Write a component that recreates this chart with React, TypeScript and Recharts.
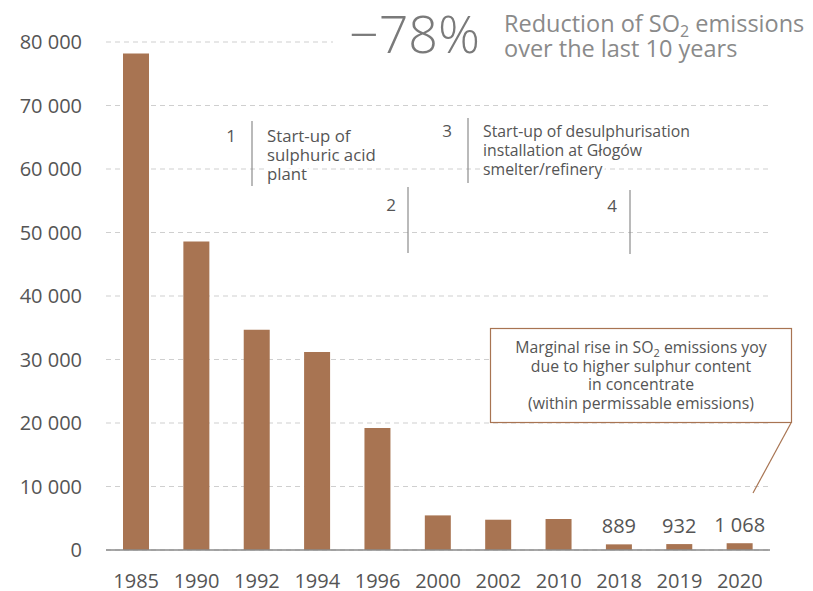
import React from "react";
import { BarChart, Bar, XAxis, YAxis, CartesianGrid, LabelList } from "recharts";

const years = ["1985", "1990", "1992", "1994", "1996", "2000", "2002", "2010", "2018", "2019", "2020"];
const emissions = [78200, 48600, 34700, 31200, 19200, 5450, 4770, 4880, 889, 932, 1068];
const valueLabels = ["", "", "", "", "", "", "", "", "889", "932", "1\u00a0068"];
const yTicks = [0, 10000, 20000, 30000, 40000, 50000, 60000, 70000, 80000];

const headline = "\u221278%";
const headlineText = ["Reduction of SO", "2", " emissions", "over the last 10 years"];
const milestone1 = ["Start-up of", "sulphuric acid", "plant"];
const milestone3 = ["Start-up of desulphurisation", "installation at G\u0142og\u00f3w", "smelter/refinery"];
const calloutLines = ["due to higher sulphur content", "in concentrate", "(within permissable emissions)"];

const data = years.map((y, i) => ({ year: y, value: emissions[i], label: valueLabels[i] }));

const BAR = "#A87452";
const FONT = "'Open Sans', sans-serif";
const fmt = (v: number) => String(v).replace(/\B(?=(\d{3})+(?!\d))/g, " ");

const halo = { stroke: "#fff", strokeWidth: 6, paintOrder: "stroke" as const, strokeLinejoin: "round" as const };

export default function App() {
  return (
    <div style={{ position: "relative", width: 813, height: 591, background: "#fff", fontFamily: FONT }}>
      <style>{"body{margin:0;background:#fff}"}</style>
      <BarChart
        width={813}
        height={591}
        data={data}
        margin={{ top: 42, right: 43, bottom: 11, left: 0 }}
      >
        <CartesianGrid vertical={false} stroke="#cfcfcf" strokeDasharray="5 4" />
        <XAxis
          dataKey="year"
          axisLine={{ stroke: "#8a8a8a", strokeWidth: 1.5 }}
          tickLine={false}
          tickSize={6}
          tickMargin={18}
          height={30}
          interval={0}
          tick={{ fill: "#555", fontSize: 20, fontFamily: FONT }}
        />
        <YAxis
          domain={[0, 80000]}
          ticks={yTicks}
          axisLine={false}
          tickLine={false}
          tickSize={6}
          tickMargin={18}
          width={106}
          interval={0}
          tickFormatter={fmt}
          tick={{ fill: "#555", fontSize: 20, fontFamily: FONT }}
        />
        <Bar dataKey="value" fill={BAR} barSize={26} isAnimationActive={false}>
          <LabelList dataKey="label" position="top" offset={11} fill="#555" fontSize={20} fontFamily={FONT} />
        </Bar>
      </BarChart>
      <svg
        width={813}
        height={591}
        style={{ position: "absolute", left: 0, top: 0, pointerEvents: "none" }}
        fontFamily={FONT}
      >
        <rect x={333} y={0} width={480} height={62} fill="#fff" />
        <text x={349} y={53} fontSize={52} fontWeight={300} fill="#7a7a7a">{headline}</text>
        <text x={504} y={32} fontSize={23.5} fill="#8a8a8a">
          {headlineText[0]}
          <tspan fontSize={16} dy={5}>{headlineText[1]}</tspan>
          <tspan dy={-5}>{headlineText[2]}</tspan>
        </text>
        <text x={504} y={57} fontSize={23.5} fill="#8a8a8a">{headlineText[3]}</text>

        {/* milestone 1 */}
        <line x1={252} y1={121} x2={252} y2={186} stroke="#8c8c8c" strokeWidth={1.2} />
        <text x={236} y={142} fontSize={17} fill="#555" textAnchor="end">1</text>
        {milestone1.map((t, i) => (
          <text key={t} x={267} y={142 + i * 19} fontSize={16.8} fill="#555" {...halo}>{t}</text>
        ))}

        {/* milestone 2 */}
        <line x1={408} y1={187} x2={408} y2={253} stroke="#8c8c8c" strokeWidth={1.2} />
        <text x={396} y={211} fontSize={17} fill="#555" textAnchor="end">2</text>

        {/* milestone 3 */}
        <line x1={468} y1={118} x2={468} y2={183} stroke="#8c8c8c" strokeWidth={1.2} />
        <text x={452} y={137} fontSize={17} fill="#555" textAnchor="end">3</text>
        {milestone3.map((t, i) => (
          <text key={t} x={483} y={137 + i * 19} fontSize={15.8} fill="#555" {...halo}>{t}</text>
        ))}

        {/* milestone 4 */}
        <line x1={630} y1={190} x2={630} y2={254} stroke="#8c8c8c" strokeWidth={1.2} />
        <text x={617} y={212} fontSize={17} fill="#555" textAnchor="end">4</text>

        {/* callout */}
        <line x1={791} y1={423} x2={753} y2={493} stroke={BAR} strokeWidth={1.2} />
        <rect x={490.5} y={328.5} width={301} height={94} fill="#fff" stroke={BAR} strokeWidth={1.2} />
        <text x={641} y={353} fontSize={15.8} fill="#555" textAnchor="middle">
          Marginal rise in SO<tspan fontSize={11} dy={4}>2</tspan><tspan dy={-4}> emissions yoy</tspan>
        </text>
        {calloutLines.map((t, i) => (
          <text key={t} x={641} y={372 + i * 18.3} fontSize={15.8} fill="#555" textAnchor="middle">{t}</text>
        ))}
      </svg>
    </div>
  );
}
